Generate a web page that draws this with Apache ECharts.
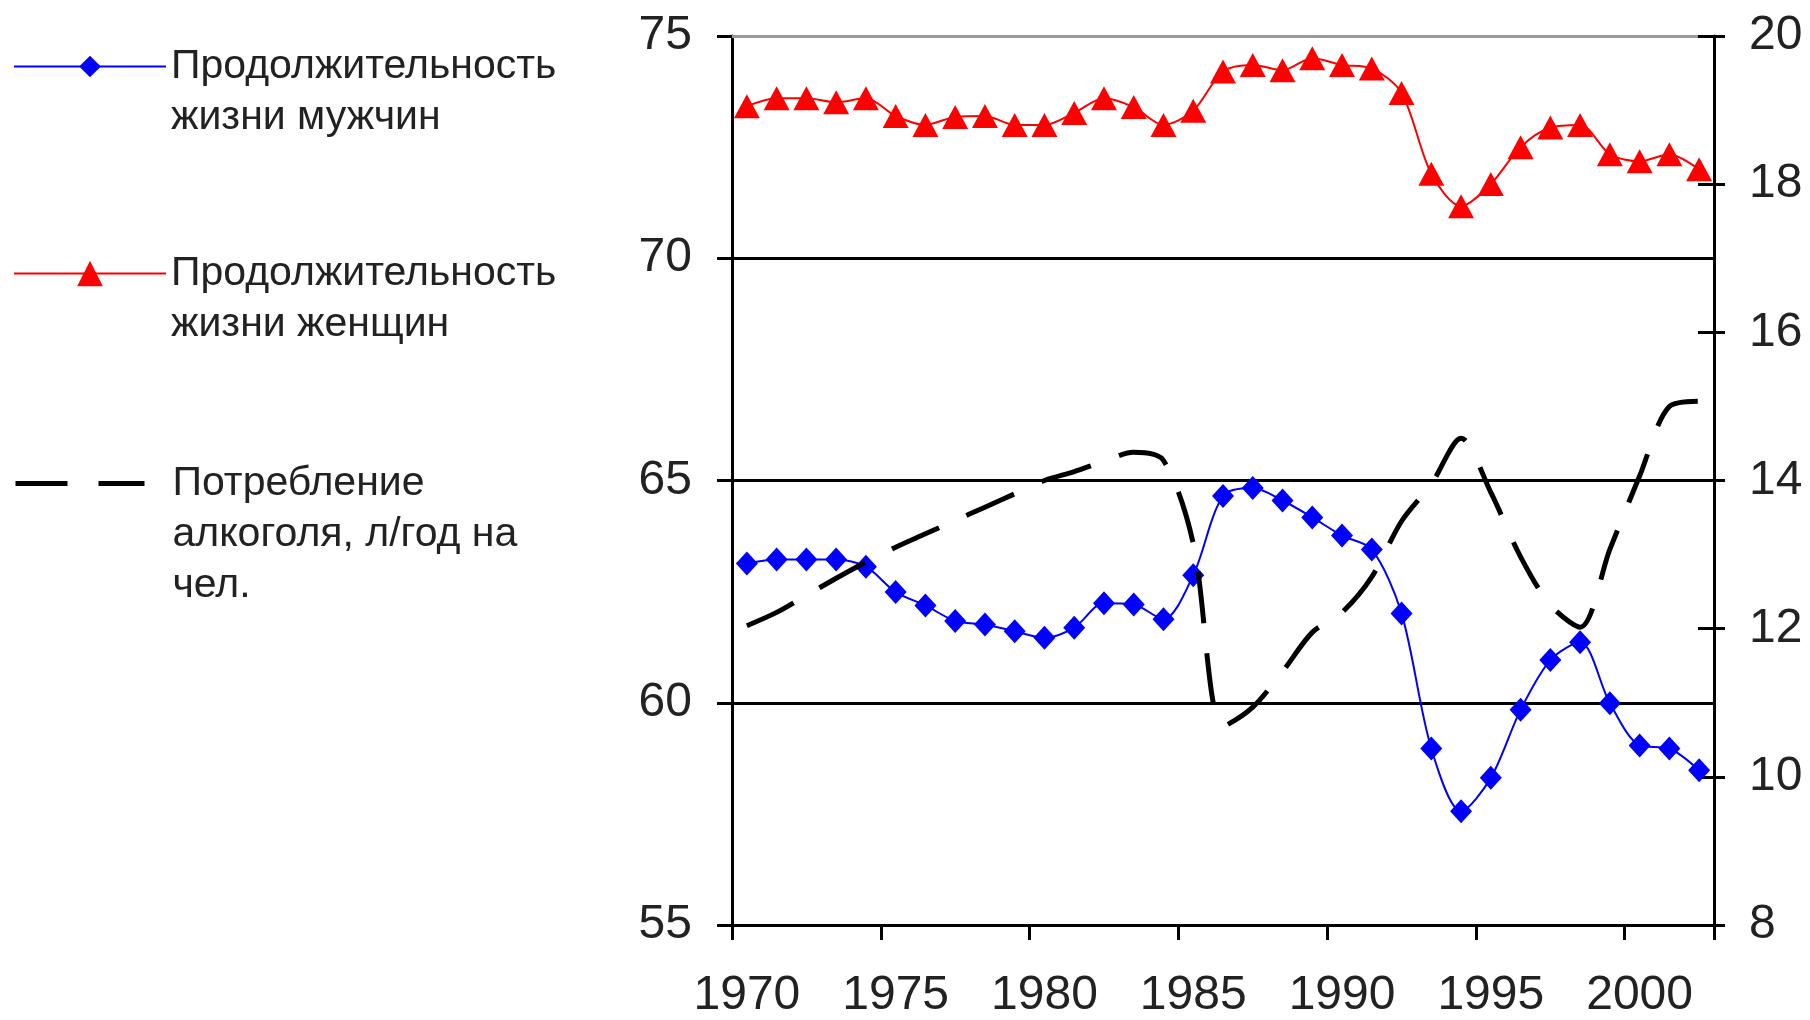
<!DOCTYPE html>
<html>
<head>
<meta charset="utf-8">
<script src="https://cdn.jsdelivr.net/npm/echarts@6/dist/echarts.min.js"></script>
<style>
  html, body { margin: 0; padding: 0; background: #fff; }
  #chart { width: 1810px; height: 1020px; }
</style>
</head>
<body>
<div id="chart"></div>
<script>
// Years on the category axis
const years = ['1970','1971','1972','1973','1974','1975','1976','1977','1978','1979',
               '1980','1981','1982','1983','1984','1985','1986','1987','1988','1989',
               '1990','1991','1992','1993','1994','1995','1996','1997','1998','1999',
               '2000','2001','2002'];

// Life expectancy of men, years (left axis)
const maleLife = [63.13, 63.22, 63.22, 63.22, 63.06, 62.49, 62.19, 61.84, 61.76, 61.61,
                  61.46, 61.69, 62.24, 62.21, 61.88, 62.87, 64.65, 64.83, 64.55, 64.17,
                  63.76, 63.45, 62.01, 58.97, 57.56, 58.31, 59.84, 60.96, 61.36, 59.99,
                  59.04, 58.97, 58.48];

// Life expectancy of women, years (left axis)
const femaleLife = [73.42, 73.60, 73.60, 73.51, 73.60, 73.20, 73.00, 73.18, 73.20, 73.00,
                    73.00, 73.27, 73.60, 73.40, 73.00, 73.32, 74.20, 74.35, 74.23, 74.50,
                    74.35, 74.27, 73.72, 71.90, 71.17, 71.67, 72.50, 72.94, 73.00, 72.34,
                    72.18, 72.34, 72.00];

// Alcohol consumption, litres per person per year (right axis)
const alcohol = [12.04, 12.22, 12.45, 12.68, 12.90, 13.10, 13.28, 13.46, 13.64, 13.82,
                 14.00, 14.12, 14.26, 14.38, 14.27, 13.15, 10.68, 10.94, 11.42, 11.95,
                 12.22, 12.70, 13.45, 13.95, 14.57, 13.84, 12.97, 12.32, 12.02, 13.07,
                 14.06, 15.00, 15.07];

// Axis ranges and tick steps
const leftRange = { min: 55, max: 75, step: 5 };
const rightRange = { min: 8, max: 20, step: 2 };

const seriesNames = [
  'Продолжительность жизни мужчин',
  'Продолжительность жизни женщин',
  'Потребление алкоголя, л/год на чел.'
];
// Legend captions (leading blank lines keep the icon beside the first text line)
const legendCaptions = [
  '\nПродолжительность\nжизни мужчин',
  '\nПродолжительность\nжизни женщин',
  '\n\nПотребление\nалкоголя, л/год на\nчел.'
];

const FONT = "'Liberation Sans', Arial, sans-serif";
const INK = '#222';

const chart = echarts.init(document.getElementById('chart'), null, { renderer: 'canvas' });

const legendText = { fontFamily: FONT, fontSize: 41, color: INK, lineHeight: 51 };

chart.setOption({
  animation: false,
  backgroundColor: '#fff',
  grid: { left: 732, top: 36, width: 982, height: 889, containLabel: false },
  legend: [
    {
      data: [seriesNames[0]], left: 13, top: -10, padding: 0,
      itemWidth: 152, itemHeight: 27,
      formatter: () => legendCaptions[0],
      textStyle: legendText
    },
    {
      data: [seriesNames[1]], left: 13, top: 197, padding: 0,
      itemWidth: 152, itemHeight: 32,
      formatter: () => legendCaptions[1],
      textStyle: legendText
    },
    {
      data: [seriesNames[2]], left: 13, top: 356, padding: 0,
      itemWidth: 152, itemHeight: 10,
      formatter: () => legendCaptions[2],
      textStyle: legendText,
      itemStyle: { color: 'rgba(0,0,0,0)', borderWidth: 0 },
      lineStyle: { width: 5, type: [52, 31, 46, 200], color: '#000' }
    }
  ],
  xAxis: [
    {
      type: 'category', data: years, boundaryGap: true, position: 'bottom',
      axisLine: { show: true, lineStyle: { color: '#000', width: 3 } },
      axisTick: { show: true, interval: 4, length: 15, lineStyle: { color: '#000', width: 3 } },
      axisLabel: { interval: 4, margin: 47, fontFamily: FONT, fontSize: 48, color: INK },
      splitLine: { show: false }
    },
    {
      type: 'category', data: years, boundaryGap: true, position: 'top',
      axisLine: { show: true, lineStyle: { color: '#999', width: 3 } },
      axisTick: { show: false }, axisLabel: { show: false }, splitLine: { show: false }
    }
  ],
  yAxis: [
    {
      type: 'value', position: 'left',
      min: leftRange.min, max: leftRange.max, interval: leftRange.step,
      axisLine: { show: true, lineStyle: { color: '#000', width: 3 } },
      axisTick: { show: true, length: 15, lineStyle: { color: '#000', width: 3 } },
      axisLabel: { margin: 40, fontFamily: FONT, fontSize: 48, color: INK },
      splitLine: { show: true, showMinLine: false, showMaxLine: false, lineStyle: { color: '#000', width: 3 } }
    },
    {
      type: 'value', position: 'right',
      min: rightRange.min, max: rightRange.max, interval: rightRange.step,
      axisLine: { show: true, lineStyle: { color: '#000', width: 3 } },
      axisTick: { show: true, length: 11, lineStyle: { color: '#000', width: 3 } },
      axisLabel: { margin: 35, fontFamily: FONT, fontSize: 48, color: INK },
      splitLine: { show: false }
    },
    {
      // inner half of the crossing ticks on the right-hand scale
      type: 'value', position: 'right',
      min: rightRange.min, max: rightRange.max, interval: rightRange.step,
      axisLine: { show: false },
      axisTick: { show: true, inside: true, length: 16, lineStyle: { color: '#000', width: 3 } },
      axisLabel: { show: false },
      splitLine: { show: false }
    }
  ],
  series: [
    {
      name: seriesNames[0], type: 'line', data: maleLife,
      xAxisIndex: 0, yAxisIndex: 0, smooth: 0.3,
      symbol: 'diamond', symbolSize: [22, 24], showAllSymbol: true,
      lineStyle: { color: '#0000ff', width: 2 },
      itemStyle: { color: '#0000ff' },
      z: 3
    },
    {
      name: seriesNames[1], type: 'line', data: femaleLife,
      xAxisIndex: 0, yAxisIndex: 0, smooth: 0.3,
      symbol: 'triangle', symbolSize: [26, 24], showAllSymbol: true,
      lineStyle: { color: '#ff0000', width: 2 },
      itemStyle: { color: '#ff0000' },
      z: 3
    },
    {
      name: seriesNames[2], type: 'line', data: alcohol,
      xAxisIndex: 0, yAxisIndex: 1, smooth: 0.3,
      symbol: 'none', showSymbol: false,
      lineStyle: { color: '#000', width: 5, type: [52, 30] },
      itemStyle: { color: '#000' },
      z: 4
    }
  ]
});
</script>
</body>
</html>
